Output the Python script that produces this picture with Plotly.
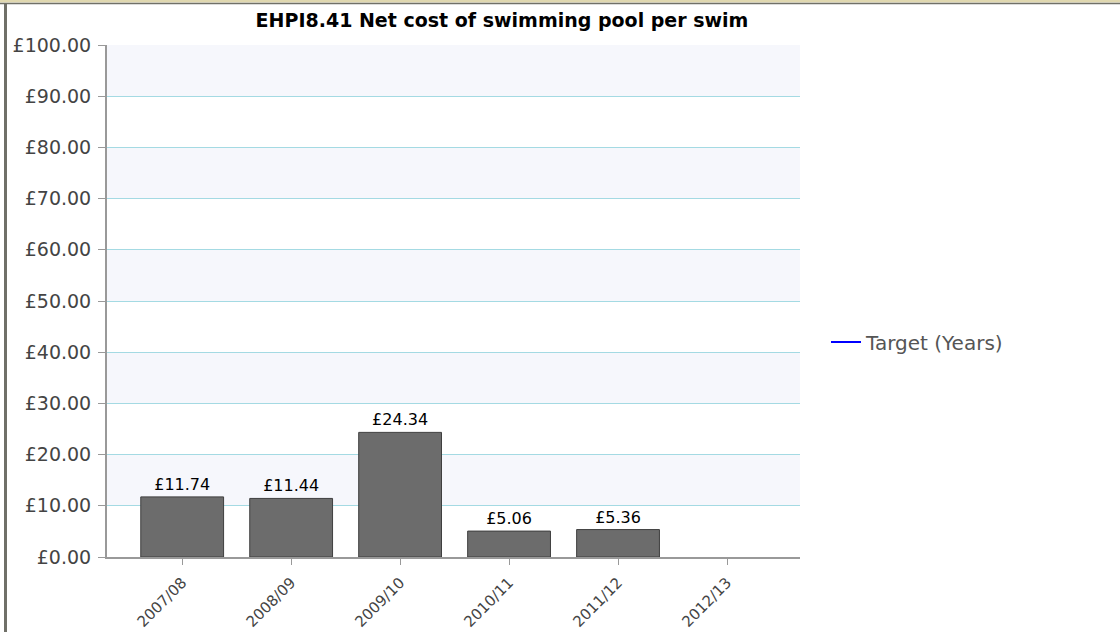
import plotly.graph_objects as go

categories = ["2007/08", "2008/09", "2009/10", "2010/11", "2011/12", "2012/13"]
net_cost = [11.74, 11.44, 24.34, 5.06, 5.36, None]
target_name = "Target (Years)"
title_text = "EHPI8.41 Net cost of swimming pool per swim"

W, H = 1120, 632
L, R, T, B = 107, 320, 45, 75
pw = W - L - R
ph = H - T - B

def px_x(p):
    return (p - L) / pw

def px_y(p):
    return (H - B - p) / ph

GRID = "#a4dae3"

fig = go.Figure()
fig.add_trace(go.Bar(
    x=categories, y=net_cost, width=0.76,
    marker=dict(color="#6c6c6c", line=dict(color="#3f3f3f", width=1)),
    text=[("£%.2f" % v) if v is not None else "" for v in net_cost],
    textposition="outside", textfont=dict(family="DejaVu Sans", size=16, color="#000000"),
    cliponaxis=False, showlegend=False, hoverinfo="x+y",
))
fig.add_trace(go.Scatter(
    x=[None], y=[None], mode="lines", name=target_name,
    line=dict(color="#0000ff", width=2),
))

shapes = []
# alternating bands
for lo in range(10, 100, 20):
    shapes.append(dict(type="rect", xref="paper", yref="y", x0=0, x1=1, y0=lo, y1=lo + 10,
                       fillcolor="#f6f7fc", line=dict(width=0), layer="below"))
# outer frame
shapes.append(dict(type="line", xref="paper", yref="paper", x0=px_x(0), x1=px_x(W), y0=px_y(1), y1=px_y(1),
                   line=dict(color="#e0d8b0", width=3)))
shapes.append(dict(type="line", xref="paper", yref="paper", x0=px_x(0), x1=px_x(W), y0=px_y(3.5), y1=px_y(3.5),
                   line=dict(color="#707068", width=1.5)))
shapes.append(dict(type="line", xref="paper", yref="paper", x0=px_x(5.5), x1=px_x(5.5), y0=px_y(3), y1=px_y(H),
                   line=dict(color="#707068", width=3)))

fig.update_layout(
    width=W, height=H,
    margin=dict(l=L, r=R, t=T, b=B, autoexpand=False),
    paper_bgcolor="#ffffff", plot_bgcolor="#ffffff",
    font=dict(family="DejaVu Sans", size=13, color="#444444"),
    title=dict(text="<b>" + title_text + "</b>", x=px_x(502), xanchor="center", xref="paper",
               y=1 - 20 / H, yanchor="middle", font=dict(size=19, color="#000000")),
    shapes=shapes,
    showlegend=True,
    legend=dict(x=px_x(826), y=px_y(342), xanchor="left", yanchor="middle",
                bgcolor="rgba(0,0,0,0)", font=dict(size=20, color="#555555"),
                itemwidth=30),
    xaxis=dict(
        type="category", range=[-0.69, 5.67], showgrid=False,
        showline=True, linecolor="#999999", linewidth=2,
        ticks="outside", ticklen=6, tickcolor="#999999", tickangle=-45,
        tickfont=dict(size=15, color="#444444"), ticklabelstandoff=3,
    ),
    yaxis=dict(
        range=[0, 100], dtick=10, tick0=0, tickprefix="£", tickformat=".2f",
        showgrid=True, gridcolor=GRID, gridwidth=1,
        showline=True, linecolor="#999999", linewidth=2,
        ticks="outside", ticklen=7, tickcolor="#999999",
        tickfont=dict(size=19, color="#444444"), zeroline=False, ticklabelstandoff=3,
    ),
)

fig.write_html("out.html", config={"displayModeBar": False},
               post_script="document.body.style.margin='0';document.body.style.overflow='hidden';")
